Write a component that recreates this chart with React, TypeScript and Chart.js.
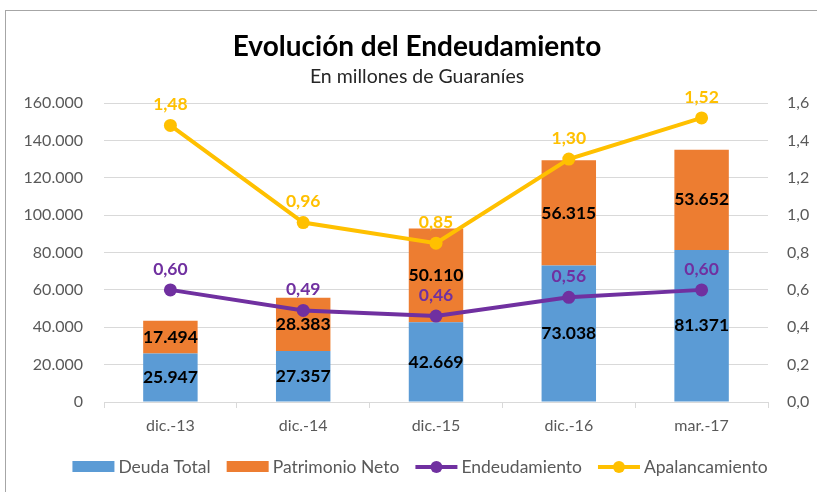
import React, { useEffect, useRef } from "react";
import { Chart, registerables } from "chart.js";

Chart.register(...registerables);

const categories = ["dic.-13", "dic.-14", "dic.-15", "dic.-16", "mar.-17"];
const deudaTotal = [25947, 27357, 42669, 73038, 81371];
const patrimonioNeto = [17494, 28383, 50110, 56315, 53652];
const endeudamiento = [0.6, 0.49, 0.46, 0.56, 0.6];
const apalancamiento = [1.48, 0.96, 0.85, 1.3, 1.52];
const rightTicks = [0, 0.2, 0.4, 0.6, 0.8, 1.0, 1.2, 1.4, 1.6];

const titleText = "Evolución del Endeudamiento";
const subtitleText = "En millones de Guaraníes";

const BLUE = "#5b9bd5";
const ORANGE = "#ed7d31";
const PURPLE = "#7030a0";
const YELLOW = "#ffc000";
const GRID = "#d9d9d9";
const TICK = "#595959";
const FONT = "Lato";

const fmtThousands = (v: number) =>
  String(Math.round(v)).replace(/\B(?=(\d{3})+(?!\d))/g, ".");
const fmtDec = (v: number, d: number) => v.toFixed(d).replace(".", ",");

const labelsPlugin = {
  id: "customLabels",
  afterDatasetsDraw(chart: any) {
    const ctx = chart.ctx;
    ctx.save();
    chart.data.datasets.forEach((ds: any, i: number) => {
      const meta = chart.getDatasetMeta(i);
      meta.data.forEach((el: any, j: number) => {
        const v = ds.data[j];
        ctx.textAlign = "center";
        ctx.textBaseline = "middle";
        if (ds.type === "bar") {
          ctx.font = `bold 17.5px ${FONT}`;
          ctx.fillStyle = "#000000";
          ctx.fillText(fmtThousands(v), el.x, (el.y + el.base) / 2);
        } else {
          ctx.font = `bold 17.5px ${FONT}`;
          ctx.fillStyle = ds.borderColor;
          ctx.fillText(fmtDec(v, 2), el.x, el.y - 21);
        }
      });
    });
    ctx.restore();
  },
  afterDraw(chart: any) {
    const ctx = chart.ctx;
    ctx.save();
    // right axis labels
    const y1 = chart.scales.y1;
    ctx.font = `16px ${FONT}`;
    ctx.fillStyle = TICK;
    ctx.textAlign = "left";
    ctx.textBaseline = "middle";
    rightTicks.forEach((t) => {
      ctx.fillText(fmtDec(t, 1), chart.chartArea.right + 19, y1.getPixelForValue(t));
    });

    // titles
    ctx.textAlign = "center";
    ctx.textBaseline = "middle";
    ctx.fillStyle = "#000000";
    ctx.font = `bold 28px ${FONT}`;
    ctx.fillText(titleText, 417, 47);
    ctx.fillStyle = "#262626";
    ctx.font = `19.5px ${FONT}`;
    ctx.fillText(subtitleText, 417, 77);

    // legend
    const items = [
      { label: "Deuda Total", color: BLUE, kind: "box" },
      { label: "Patrimonio Neto", color: ORANGE, kind: "box" },
      { label: "Endeudamiento", color: PURPLE, kind: "line" },
      { label: "Apalancamiento", color: YELLOW, kind: "line" },
    ];
    ctx.font = `17.5px ${FONT}`;
    const symW = 42;
    const gapSym = 4;
    const gapItem = 16;
    const widths = items.map((it) => symW + gapSym + ctx.measureText(it.label).width);
    const total = widths.reduce((a, b) => a + b, 0) + gapItem * (items.length - 1);
    let x = 420 - total / 2;
    const y = 467;
    items.forEach((it, k) => {
      if (it.kind === "box") {
        ctx.fillStyle = it.color;
        ctx.fillRect(x, y - 6, symW, 11);
      } else {
        ctx.strokeStyle = it.color;
        ctx.lineWidth = 4;
        ctx.beginPath();
        ctx.moveTo(x, y);
        ctx.lineTo(x + symW, y);
        ctx.stroke();
        ctx.fillStyle = it.color;
        ctx.beginPath();
        ctx.arc(x + symW / 2, y, 6, 0, Math.PI * 2);
        ctx.fill();
      }
      ctx.fillStyle = TICK;
      ctx.textAlign = "left";
      ctx.textBaseline = "middle";
      ctx.fillText(it.label, x + symW + gapSym, y);
      x += widths[k] + gapItem;
    });
    ctx.restore();
  },
};

export default function App() {
  const ref = useRef<HTMLCanvasElement | null>(null);
  useEffect(() => {
    if (!ref.current) return;
    const chart = new Chart(ref.current, {
      type: "bar",
      data: {
        labels: categories,
        datasets: [
          {
            type: "line",
            label: "Endeudamiento",
            data: endeudamiento,
            borderColor: PURPLE,
            backgroundColor: PURPLE,
            borderWidth: 4,
            pointRadius: 6.5,
            pointHoverRadius: 6.5,
            pointBackgroundColor: PURPLE,
            pointBorderWidth: 0,
            yAxisID: "y1",
            order: 0,
          } as any,
          {
            type: "line",
            label: "Apalancamiento",
            data: apalancamiento,
            borderColor: YELLOW,
            backgroundColor: YELLOW,
            borderWidth: 4,
            pointRadius: 6.5,
            pointHoverRadius: 6.5,
            pointBackgroundColor: YELLOW,
            pointBorderWidth: 0,
            yAxisID: "y1",
            order: 0,
          } as any,
          {
            type: "bar",
            label: "Deuda Total",
            data: deudaTotal,
            backgroundColor: BLUE,
            stack: "s",
            yAxisID: "y",
            barPercentage: 0.41,
            categoryPercentage: 1,
            order: 1,
          } as any,
          {
            type: "bar",
            label: "Patrimonio Neto",
            data: patrimonioNeto,
            backgroundColor: ORANGE,
            stack: "s",
            yAxisID: "y",
            barPercentage: 0.41,
            categoryPercentage: 1,
            order: 1,
          } as any,
        ],
      },
      options: {
        responsive: false,
        animation: false,
        devicePixelRatio: 1,
        layout: { padding: { top: 103, left: 0, right: 0, bottom: 0 } },
        plugins: {
          legend: { display: false },
          title: { display: false },
          tooltip: { enabled: false },
        },
        scales: {
          x: {
            stacked: true,
            grid: {
              display: true,
              drawOnChartArea: false,
              drawTicks: true,
              tickLength: 6,
              color: GRID,
              offset: true,
            },
            border: { display: true, color: GRID, width: 1 },
            ticks: { color: TICK, font: { family: FONT, size: 16 }, padding: 8 },
            afterFit: (s: any) => {
              s.height = 90;
            },
          },
          y: {
            type: "linear",
            position: "left",
            stacked: true,
            min: 0,
            max: 160000,
            ticks: {
              stepSize: 20000,
              color: TICK,
              font: { family: FONT, size: 16 },
              padding: 21,
              callback: (v: any) => fmtThousands(Number(v)),
            },
            grid: { color: GRID, drawTicks: false, lineWidth: 1 },
            border: { display: false },
            afterFit: (s: any) => {
              s.width = 104;
            },
          },
          y1: {
            type: "linear",
            position: "right",
            min: 0,
            max: 1.6,
            ticks: { display: false, stepSize: 0.2 },
            grid: { display: false, drawTicks: false },
            border: { display: false },
            afterFit: (s: any) => {
              s.width = 49;
            },
          },
        },
      },
      plugins: [labelsPlugin],
    } as any);
    return () => chart.destroy();
  }, []);

  return (
    <div
      style={{
        position: "fixed",
        left: 0,
        top: 0,
        width: 817,
        height: 492,
        background: "#ffffff",
        overflow: "hidden",
      }}
    >
      <div
        style={{
          position: "absolute",
          left: 5,
          top: 10,
          width: 830,
          height: 500,
          border: "1px solid #a6a6a6",
          boxSizing: "border-box",
        }}
      />
      <canvas
        ref={ref}
        width={817}
        height={492}
        style={{ position: "absolute", left: 0, top: 0, width: 817, height: 492 }}
      />
    </div>
  );
}
